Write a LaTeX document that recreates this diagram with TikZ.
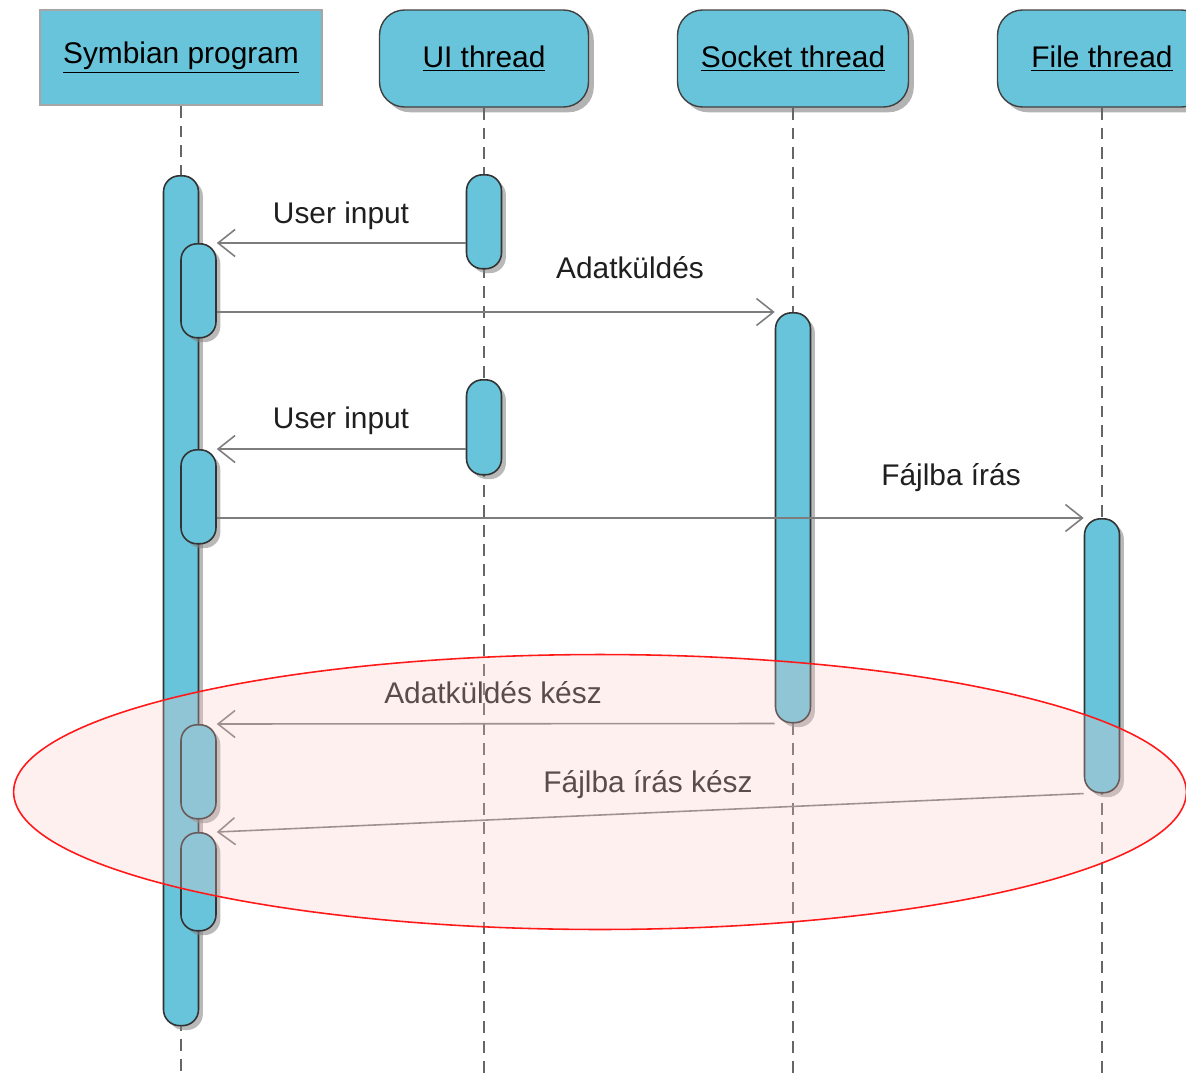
\documentclass[tikz,border=0pt]{standalone}
\usepackage{fontspec}
\setmainfont{Liberation Sans}
\usepackage{xcolor}
\usetikzlibrary{arrows.meta,shadows,positioning}

\definecolor{lanefill}{RGB}{104,196,218}
\definecolor{msggray}{RGB}{125,125,125}
\definecolor{markred}{RGB}{255,25,25}
\definecolor{markfill}{RGB}{255,200,200}

\tikzset{
  header/.style={fill=lanefill, draw=black!35, line width=0.8pt,
    inner sep=0pt, minimum height=1.94cm},
  thread/.style={header, draw=black!75, rounded corners=0.5cm,
    drop shadow={shadow xshift=3pt, shadow yshift=-3pt, opacity=0.6}},
  actbar/.style={fill=lanefill, draw=black!80, line width=0.9pt,
    rounded corners=0.32cm, inner sep=0pt, minimum width=0.7cm, anchor=north,
    drop shadow={shadow xshift=2.5pt, shadow yshift=-2.5pt, opacity=0.55}},
  lifeline/.style={draw=black!60, line width=1pt, dash pattern=on 6.8pt off 4.5pt},
  msg/.style={draw=msggray, line width=0.9pt,
    -{Straight Barb[length=0.34cm, width=0.54cm]}},
  msglabel/.style={anchor=base, text=black!88, inner sep=0pt}
}

\begin{document}
\begin{tikzpicture}[x=0.02cm, y=-0.02cm, font=\fontsize{17}{20}\selectfont]

  \path[use as bounding box, clip] (0,0) rectangle (1186,1078);
  \coordinate (bottom) at (0,1078);

  % fejlecek
  \node[header, minimum width=5.64cm, minimum height=1.9cm] (sym) at (181,57.5) {\underline{Symbian program}};
  \node[thread, minimum width=4.18cm] (ui)   at (484,58.5)  {\underline{UI thread}};
  \node[thread, minimum width=4.62cm] (sock) at (793,58.5)  {\underline{Socket thread}};
  \node[thread, minimum width=4.18cm] (file) at (1102,58.5) {\underline{File thread}};

  % eletvonalak
  \foreach \n in {sym,ui,sock,file}{
    \draw[lifeline] (\n.south) -- (\n.south |- bottom);
  }

  % aktivacios savok
  \node[actbar, minimum height=17cm]   (symact) at (181,175) {};
  \node[actbar, minimum height=1.88cm] (nest1)  at (198.5,243) {};
  \node[actbar, minimum height=1.88cm] (nest2)  at (198.5,449) {};
  \node[actbar, minimum height=1.88cm] (nest3)  at (198.5,724) {};
  \node[actbar, minimum height=1.96cm] (nest4)  at (198.5,832) {};

  \node[actbar, minimum height=1.88cm] (uiact1) at (484,174) {};
  \node[actbar, minimum height=1.9cm]  (uiact2) at (484,379) {};
  \node[actbar, minimum height=8.2cm]  (sockact) at (793,312) {};
  \node[actbar, minimum height=5.48cm] (fileact) at (1102,518) {};

  % uzenetek
  \draw[msg] (uiact1.west |- nest1.north) -- (nest1.north east);
  \draw[msg] (nest1.east |- sockact.north) -- (sockact.north west);
  \draw[msg] (uiact2.west |- nest2.north) -- (nest2.north east);
  \draw[msg] (nest2.east |- fileact.north) -- (fileact.north west);
  \draw[msg] (sockact.south west) -- (nest3.north east);
  \draw[msg] (fileact.south west) -- (nest4.north east);

  \node[msglabel] (lblIn1)       at (341,223) {User input};
  \node[msglabel] (lblSend)      at (630,278) {Adatküldés};
  \node[msglabel] (lblIn2)       at (341,428) {User input};
  \node[msglabel] (lblWrite)     at (951,485) {Fájlba írás};
  \node[msglabel] (lblSendDone)  at (493,703) {Adatküldés kész};
  \node[msglabel] (lblWriteDone) at (648,792) {Fájlba írás kész};

  % kiemeles
  \draw[markred, line width=0.9pt, fill=markfill, fill opacity=0.27]
    (600,792) ellipse [x radius=11.73cm, y radius=2.75cm];

\end{tikzpicture}
\end{document}
